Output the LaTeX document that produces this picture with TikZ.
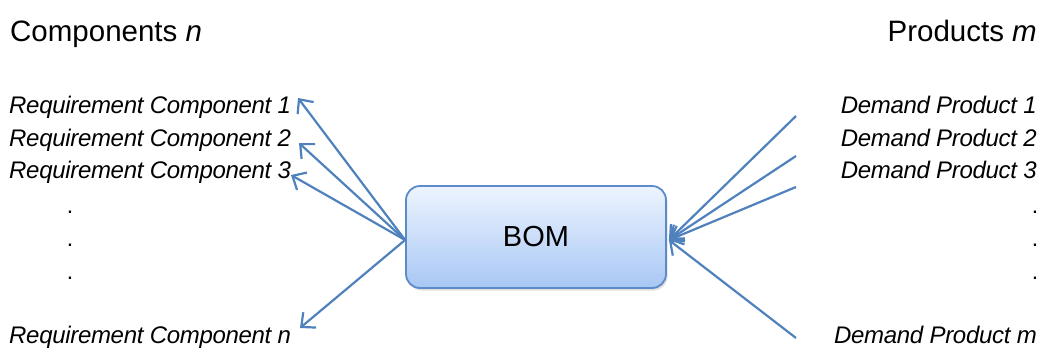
\documentclass[tikz,border=0pt]{standalone}
\usepackage{fontspec}
\setmainfont{Liberation Sans}
\usetikzlibrary{arrows.meta,shadows}
\definecolor{linkblue}{HTML}{4F81BD}
\definecolor{boxedge}{HTML}{5B8BC8}
\definecolor{boxtop}{HTML}{EDF4FF}
\definecolor{boxbot}{HTML}{A8C7F4}
\begin{document}
\begin{tikzpicture}[x=1pt,y=-1pt,
  title/.style={font=\fontsize{29.5}{31}\selectfont, inner sep=0pt},
  itemlabel/.style={font=\fontsize{24}{26}\selectfont\itshape\addfontfeature{LetterSpace=-1.3}, inner sep=0pt},
  dotlabel/.style={font=\fontsize{23}{25}\selectfont, inner sep=0pt},
  bombox/.style={draw=boxedge, line width=1.8pt, rounded corners=14pt,
    top color=boxtop, bottom color=boxbot,
    minimum width=260pt, minimum height=102pt,
    font=\fontsize{29}{31}\selectfont,
    drop shadow={opacity=0.25, shadow xshift=1.5pt, shadow yshift=-2.5pt}},
  link/.style={draw=linkblue, line width=2.2pt,
    -{Straight Barb[length=11pt,width=20pt,line width=2.2pt]}}
]
\useasboundingbox (0,0) rectangle (1042,349);

% headings
\node[title, anchor=base west] (comp) at (10,41) {Components \textit{n}};
\node[title, anchor=base east] (prod) at (1037,41) {Products \textit{m}};

% component requirements (left column)
\node[itemlabel, anchor=base west] (r1) at (9,113) {Requirement Component 1};
\node[itemlabel, anchor=base west] (r2) at (9,146) {Requirement Component 2};
\node[itemlabel, anchor=base west] (r3) at (9,178) {Requirement Component 3};
\node[dotlabel, anchor=base] (ld1) at (70,213) {.};
\node[dotlabel, anchor=base] (ld2) at (70,246) {.};
\node[dotlabel, anchor=base] (ld3) at (70,279) {.};
\node[itemlabel, anchor=base west] (rn) at (9,343) {Requirement Component n};

% product demands (right column)
\node[itemlabel, anchor=base east] (d1) at (1037,113) {Demand Product 1};
\node[itemlabel, anchor=base east] (d2) at (1037,146) {Demand Product 2};
\node[itemlabel, anchor=base east] (d3) at (1037,178) {Demand Product 3};
\node[dotlabel, anchor=base] (rd1) at (1035,213) {.};
\node[dotlabel, anchor=base] (rd2) at (1035,246) {.};
\node[dotlabel, anchor=base] (rd3) at (1035,279) {.};
\node[itemlabel, anchor=base east] (dm) at (1037,343) {Demand Product m};

% bill of materials
\node[bombox] (bom) at (536,237) {BOM};

% arrow ends next to the labels
\coordinate (a1) at (298,98);
\coordinate (a2) at (299,143);
\coordinate (a3) at (291,175);
\coordinate (an) at (300,328);
\coordinate (b1) at (796,116);
\coordinate (b2) at (796,156);
\coordinate (b3) at (796,187);
\coordinate (bm) at (796,338);

\coordinate (bomin) at ([xshift=2pt,yshift=-3pt]bom.east);
\coordinate (bomout) at ([yshift=-3pt]bom.west);

\foreach \t in {a1,a2,a3,an}
  \draw[link] (bomout) -- (\t);
\foreach \s in {b1,b2,b3,bm}
  \draw[link] (\s) -- (bomin);
\end{tikzpicture}
\end{document}
